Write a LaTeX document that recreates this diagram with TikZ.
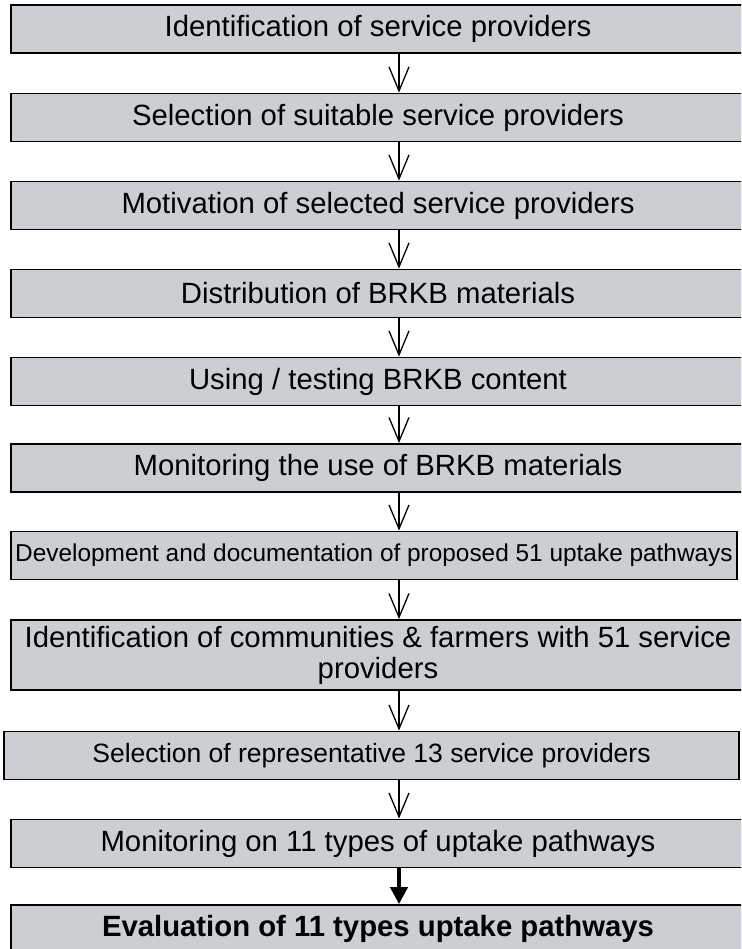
\documentclass[tikz,border=0pt]{standalone}
\usepackage{fontspec}
\setmainfont{Liberation Sans}
\usepackage{xcolor}
\usepackage{tikz}
\usetikzlibrary{arrows.meta}
\usetikzlibrary{positioning}
\definecolor{marble}{RGB}{218,221,224}
\definecolor{marbled}{RGB}{203,206,210}
\definecolor{marblel}{RGB}{230,232,234}
\tikzset{
    stepnode/.style = {rectangle, draw=black, line width=1.8pt, left color=marbled, middle color=marblel, right color=marbled, align=center, inner sep=0pt, minimum height=48pt, minimum width=734pt, font=\fontsize{29.3}{31}\selectfont},
    stepsmall/.style = {stepnode, font=\fontsize{24.4}{28}\selectfont},
    stepmid/.style = {stepnode, font=\fontsize{26.5}{30}\selectfont},
}
\begin{document}
\begin{tikzpicture}[x=1pt,y=-1pt]
\tikzset{
    flow/.style = {-{Straight Barb[length=24pt,width=20pt]}, line width=1.3pt},
    flowb/.style = {-{Triangle[length=17pt,width=17pt]}, line width=4pt},
}
\useasboundingbox (0,0) rectangle (741,949);
\clip (0,0) rectangle (741,949);
\coordinate (ax) at (399,0);
\node[stepnode] at (378,29) (a) {Identification of service providers};
\node[stepnode] at (378,117.5) (b) {Selection of suitable service providers};
\node[stepnode] at (378,205.5) (c) {Motivation of selected service providers};
\node[stepnode] at (378,293.5) (d) {Distribution of BRKB materials};
\node[stepnode] at (378,381.5) (e) {Using / testing BRKB content};
\node[stepnode] at (378,468) (f) {Monitoring the use of BRKB materials};
\node[stepsmall, minimum width=726pt] at (374,555.5) (g) {Development and documentation of proposed 51 uptake pathways};
\node[stepnode, minimum height=70pt] at (378,655) (h) {Identification of communities \& farmers with 51 service\\providers};
\node[stepmid, minimum width=735pt] at (371.5,755.5) (i) {Selection of representative 13 service providers};
\node[stepnode] at (378,843.5) (j) {Monitoring on 11 types of uptake pathways};
\node[stepnode] at (378,929) (k) {\bfseries Evaluation of 11 types uptake pathways};
%
\draw[flow] (a.south -| ax) -- (b.north -| ax);
\draw[flow] (b.south -| ax) -- (c.north -| ax);
\draw[flow] (c.south -| ax) -- (d.north -| ax);
\draw[flow] (d.south -| ax) -- (e.north -| ax);
\draw[flow] (e.south -| ax) -- (f.north -| ax);
\draw[flow] (f.south -| ax) -- (g.north -| ax);
\draw[flow] (g.south -| ax) -- (h.north -| ax);
\draw[flow] (h.south -| ax) -- (i.north -| ax);
\draw[flow] (i.south -| ax) -- (j.north -| ax);
%
\draw[flowb] (j.south -| ax) -- (k.north -| ax);
\end{tikzpicture}
\end{document}
